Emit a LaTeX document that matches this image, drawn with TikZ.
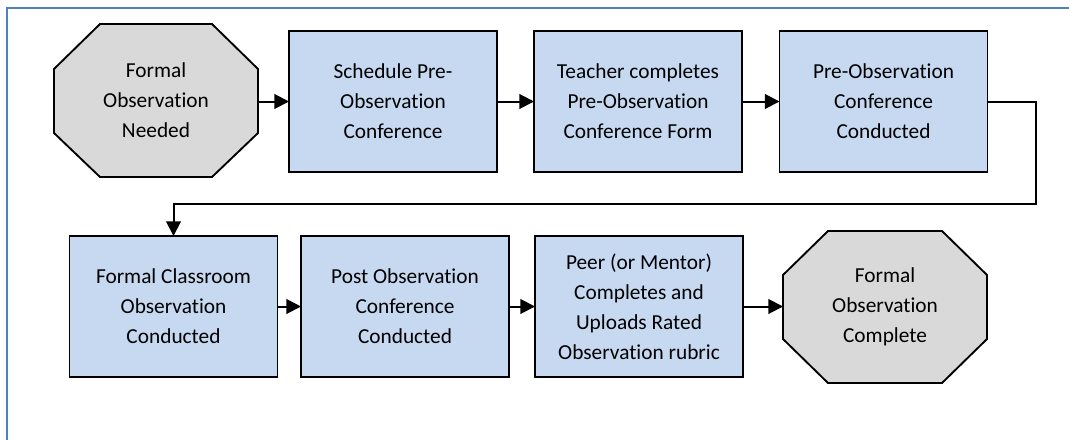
\documentclass[tikz,border=0pt]{standalone}
\usepackage{fontspec}
\setmainfont[Ligatures=NoCommon]{Carlito}
\usetikzlibrary{arrows.meta}
\definecolor{boxblue}{HTML}{C6D9F1}
\definecolor{octgray}{HTML}{D9D9D9}
\definecolor{framecol}{HTML}{4F81BD}
\tikzset{
  box/.style={draw=black, fill=boxblue, line width=1.4pt, inner sep=0pt, outer sep=0pt,
    minimum width=208*0.75pt, minimum height=141*0.75pt, align=center,
    font=\fontsize{16}{22.5}\selectfont},
  octtext/.style={inner sep=0pt, outer sep=0pt, minimum width=204*0.75pt, minimum height=153*0.75pt,
    align=center, font=\fontsize{16}{22.5}\selectfont},
  octshape/.style={draw=black, fill=octgray, line width=1.4pt, line join=miter},
  conn/.style={draw=black, line width=1.5pt, -{Triangle[length=11pt,width=11pt]}},
}
\begin{document}
\begin{tikzpicture}[x=0.75pt,y=-0.75pt]
\useasboundingbox (0,0) rectangle (1069,439);
\draw[framecol, line width=2.2pt] (7,440) -- (7,8) -- (1070,8);
% octagons
\draw[octshape] (100,24) -- (212,24) -- (258,69) -- (258,133) -- (212,177) -- (100,177) -- (54,133) -- (54,69) -- cycle;
\node[octtext] (o1) at (156,100.5) {Formal\\Observation\\Needed};
\draw[octshape] (828,231) -- (942,231) -- (987,275) -- (987,339) -- (942,383) -- (828,383) -- (783,339) -- (783,275) -- cycle;
\node[octtext] (o2) at (885,307) {Formal\\Observation\\Complete};
% boxes
\node[box] (b2) at (393,101.5) {Schedule Pre-\\Observation\\Conference};
\node[box] (b3) at (638,101.5) {Teacher completes\\Pre-Observation\\Conference Form};
\node[box] (b4) at (883.5,101.5) {Pre-Observation\\Conference\\Conducted};
\node[box] (b5) at (173.5,306.5) {Formal Classroom\\Observation\\Conducted};
\node[box] (b6) at (405,306.5) {Post Observation\\Conference\\Conducted};
\node[box] (b7) at (639,306.5) {Peer (or Mentor)\\Completes and\\Uploads Rated\\Observation rubric};
% connectors
\coordinate (c1) at (1036,204);
\draw[conn] (258,101.5) -- (b2.west);
\draw[conn] (b2.east) -- (b3.west);
\draw[conn] (b3.east) -- (b4.west);
\draw[conn] (b4.east) -| (c1) -| (b5.north);
\draw[conn] (b5.east) -- (b6.west);
\draw[conn] (b6.east) -- (b7.west);
\draw[conn] (b7.east) -- (783,306.5);
\end{tikzpicture}
\end{document}
